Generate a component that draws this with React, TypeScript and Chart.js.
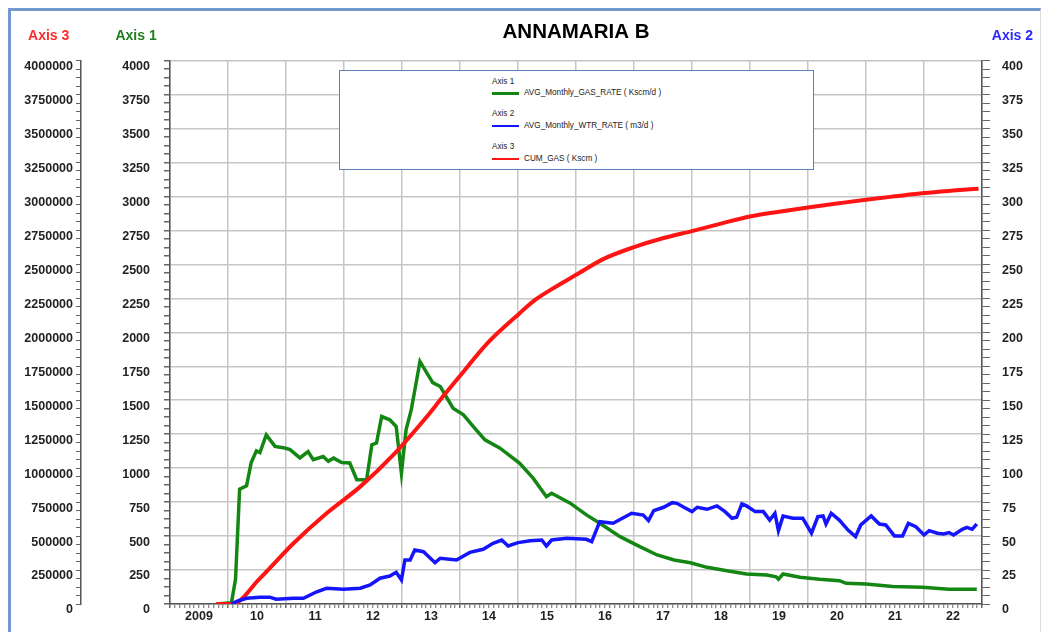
import React, { useEffect, useRef } from 'react';
import { Chart, registerables } from 'chart.js';

Chart.register(...registerables);

// ---- DATA ----
const gasYears = [
  2009.8, 2010.06, 2010.13, 2010.2, 2010.32, 2010.4, 2010.49, 2010.55, 2010.66, 2010.81,
  2010.98, 2011.07, 2011.24, 2011.38, 2011.47, 2011.64, 2011.73, 2011.82, 2011.96, 2012.1,
  2012.22, 2012.39, 2012.48, 2012.56, 2012.65, 2012.79, 2012.9, 2012.99, 2013.07, 2013.16,
  2013.31, 2013.53, 2013.66, 2013.88, 2014.06, 2014.23, 2014.43, 2014.69, 2015.03, 2015.26,
  2015.49, 2015.58, 2015.9, 2016.18, 2016.41, 2016.76, 2017.1, 2017.4, 2017.69, 2017.97,
  2018.26, 2018.6, 2018.94, 2019.29, 2019.45, 2019.49, 2019.57, 2019.86, 2020.2, 2020.54,
  2020.66, 2021.0, 2021.46, 2021.97, 2022.43, 2022.91,
];
const gasRate = [
  0, 10, 184, 845, 870, 1042, 1127, 1115, 1245, 1160,
  1148, 1136, 1075, 1122, 1062, 1086, 1050, 1074, 1042, 1038,
  915, 915, 1172, 1185, 1380, 1356, 1306, 963, 1282, 1430,
  1785, 1630, 1601, 1441, 1392, 1306, 1208, 1147, 1036, 926,
  790, 815, 742, 656, 594, 496, 422, 361, 324, 304,
  270, 245, 221, 214, 200, 182, 221, 197, 182, 172,
  152, 147, 128, 123, 108, 108,
];

const wtrYears = [
  2010.06, 2010.15, 2010.32, 2010.55, 2010.72, 2010.83, 2011.13, 2011.3, 2011.53, 2011.7,
  2011.99, 2012.28, 2012.45, 2012.62, 2012.79, 2012.9, 2012.99, 2013.05, 2013.14, 2013.22,
  2013.37, 2013.57, 2013.66, 2013.94, 2014.17, 2014.4, 2014.57, 2014.72, 2014.83, 2015.0,
  2015.21, 2015.41, 2015.49, 2015.58, 2015.84, 2016.18, 2016.27, 2016.41, 2016.64, 2016.96,
  2017.16, 2017.25, 2017.34, 2017.51, 2017.66, 2017.74, 2017.86, 2018.0, 2018.09, 2018.26,
  2018.43, 2018.57, 2018.69, 2018.77, 2018.86, 2018.94, 2019.09, 2019.23, 2019.34, 2019.43,
  2019.49, 2019.57, 2019.74, 2019.91, 2020.06, 2020.17, 2020.26, 2020.31, 2020.4, 2020.54,
  2020.69, 2020.82, 2020.91, 2021.09, 2021.23, 2021.34, 2021.49, 2021.63, 2021.73, 2021.86,
  2022.0, 2022.09, 2022.23, 2022.34, 2022.43, 2022.51, 2022.66, 2022.74, 2022.83, 2022.91,
];
const wtrRate = [
  0, 2, 4.2, 4.9, 5, 3.5, 4.2, 4.2, 9, 11.6,
  10.8, 11.6, 14, 19, 20.6, 23.3, 17.7, 32.4, 32.4, 39.8,
  38.5, 30.4, 33.7, 32.4, 38, 40.3, 44.7, 47.1, 42.7, 45.2,
  46.6, 47.1, 42.7, 47.1, 48.4, 47.6, 45.9, 60.6, 59.4, 66.8,
  65.5, 61.4, 68.7, 71.2, 74.6, 74.1, 71.2, 68, 71.2, 69.7,
  72.2, 68, 63.1, 63.8, 73.7, 72.2, 68, 68, 61.8, 66.8,
  54, 64.8, 63.1, 63.1, 52.1, 64.3, 64.8, 58.9, 66.8, 61.8,
  54.4, 49.6, 58.2, 64.8, 58.9, 58.2, 50.1, 50.1, 59.4, 56.9,
  50.8, 54, 52.1, 51.6, 52.6, 50.8, 55, 56.4, 55, 58.9,
];

const cumYears = [
  2009.8, 2010.07, 2010.55, 2011.13, 2011.7, 2012.28, 2012.85, 2013.43, 2013.66, 2014.06,
  2014.45, 2015.03, 2015.3, 2015.61, 2016.0, 2016.47, 2017.0, 2017.51, 2018.0, 2018.5,
  2019.0, 2019.5, 2020.0, 2020.5, 2021.0, 2021.5, 2022.0, 2022.5, 2022.94,
];
const cumGas = [
  0, 0, 189000, 447000, 668000, 864000, 1097000, 1380000, 1503000, 1710000,
  1910000, 2141000, 2240000, 2325000, 2423000, 2539000, 2627000, 2694000, 2745000, 2800000,
  2853000, 2888000, 2919000, 2948000, 2976000, 3001000, 3025000, 3043000, 3057000,
];

const yearLabels = ['2009', '10', '11', '12', '13', '14', '15', '16', '17', '18', '19', '20', '21', '22'];
const axis1Labels = ['0', '250', '500', '750', '1000', '1250', '1500', '1750', '2000', '2250', '2500', '2750', '3000', '3250', '3500', '3750', '4000'];
const axis2Labels = ['0', '25', '50', '75', '100', '125', '150', '175', '200', '225', '250', '275', '300', '325', '350', '375', '400'];
const axis3Labels = ['0', '250000', '500000', '750000', '1000000', '1250000', '1500000', '1750000', '2000000', '2250000', '2500000', '2750000', '3000000', '3250000', '3500000', '3750000', '4000000'];

// ---- STYLE ----
const GREEN = '#138613';
const BLUE = '#1414ff';
const RED = '#ff1414';
const GRID = '#c6c6c6';
const AXIS = '#555555';
const FONT = '"Liberation Sans", Arial, sans-serif';
const tickFont = { family: FONT, size: 12.5, weight: 'bold' as const };
const TRANSPARENT = 'rgba(0,0,0,0)';

const legendItems = [
  { axis: 'Axis 1', name: 'AVG_Monthly_GAS_RATE ( Kscm/d )', color: GREEN },
  { axis: 'Axis 2', name: 'AVG_Monthly_WTR_RATE ( m3/d )', color: BLUE },
  { axis: 'Axis 3', name: 'CUM_GAS ( Kscm )', color: RED },
];

const headerPlugin = {
  id: 'axisHeaders',
  afterDraw(chart: any) {
    const ctx = chart.ctx as CanvasRenderingContext2D;
    const items = [
      { id: 'y3', text: 'Axis 3', color: '#ff2a2a' },
      { id: 'y', text: 'Axis 1', color: '#1f7f1f' },
      { id: 'y2', text: 'Axis 2', color: '#2a2aff' },
    ];
    const yPos = chart.chartArea.top - 24;
    ctx.save();
    for (const it of items) {
      const s = chart.scales[it.id];
      const o = s.options;
      const tl = o.grid.tickLength;
      const pad = o.ticks.padding;
      ctx.font = `bold ${tickFont.size}px ${FONT}`;
      const lastLabel = String(s.ticks[s.ticks.length - 1].label);
      const w = ctx.measureText(lastLabel).width;
      let cx: number;
      if (o.position === 'left') {
        cx = s.right - tl - pad - w / 2;
      } else {
        cx = s.left + tl + pad + w / 2;
      }
      ctx.font = `bold 14px ${FONT}`;
      ctx.fillStyle = it.color;
      ctx.textAlign = 'center';
      ctx.textBaseline = 'middle';
      ctx.fillText(it.text, cx, yPos);
    }
    ctx.restore();
  },
};

function makeTicks(n: number, step: number, start = 0) {
  const arr: { value: number }[] = [];
  for (let i = 0; i <= n; i++) arr.push({ value: start + i * step });
  return arr;
}

export default function App() {
  const canvasRef = useRef<HTMLCanvasElement | null>(null);

  useEffect(() => {
    if (!canvasRef.current) return;
    const chart = new Chart(canvasRef.current, {
      type: 'line',
      data: {
        datasets: [
          {
            label: 'AVG_Monthly_WTR_RATE ( m3/d )',
            data: wtrYears.map((x, i) => ({ x, y: wtrRate[i] })),
            borderColor: BLUE,
            backgroundColor: BLUE,
            borderWidth: 3.5,
            yAxisID: 'y2',
          },
          {
            label: 'CUM_GAS ( Kscm )',
            data: cumYears.map((x, i) => ({ x, y: cumGas[i] })),
            borderColor: RED,
            backgroundColor: RED,
            borderWidth: 4,
            cubicInterpolationMode: 'monotone',
            yAxisID: 'y3',
          },
          {
            label: 'AVG_Monthly_GAS_RATE ( Kscm/d )',
            data: gasYears.map((x, i) => ({ x, y: gasRate[i] })),
            borderColor: GREEN,
            backgroundColor: GREEN,
            borderWidth: 3.5,
            yAxisID: 'y',
          },
        ],
      },
      options: {
        responsive: false,
        animation: false,
        devicePixelRatio: 1,
        layout: { padding: { left: 10, right: 8, top: 10, bottom: 0 } },
        elements: { point: { radius: 0, hoverRadius: 0 }, line: { tension: 0 } },
        plugins: {
          legend: { display: false },
          tooltip: { enabled: false },
          title: {
            display: true,
            text: 'ANNAMARIA B',
            fullSize: false,
            color: '#000',
            font: { family: FONT, size: 20.5, weight: 'bold' },
            padding: { top: 10, bottom: 16 },
          },
        },
        scales: {
          x: {
            type: 'linear',
            min: 2009,
            max: 2023,
            afterBuildTicks: (s: any) => {
              s.ticks = makeTicks(14 * 12, 1 / 12, 2009);
            },
            afterFit: (s: any) => {
              s.height = 28;
            },
            grid: {
              color: (c: any) => (c.index % 12 === 0 ? GRID : TRANSPARENT),
              lineWidth: 1.5,
              tickColor: '#666',
              tickLength: 4,
              tickWidth: (c: any) => (c.index % 12 === 0 ? 1.5 : 1),
            },
            border: { display: true, color: AXIS, width: 1.5 },
            ticks: {
              autoSkip: false,
              maxRotation: 0,
              minRotation: 0,
              padding: 1,
              color: '#222',
              font: tickFont,
              callback: (_v: any, i: number) => (i % 12 === 6 ? yearLabels[Math.floor(i / 12)] : ''),
            },
          },
          y: {
            type: 'linear',
            position: 'left',
            weight: 0,
            min: 0,
            max: 4000,
            afterBuildTicks: (s: any) => {
              s.ticks = makeTicks(64, 62.5);
            },
            afterFit: (s: any) => {
              s.width = 89;
            },
            grid: {
              color: (c: any) => (c.index % 4 === 0 ? GRID : TRANSPARENT),
              lineWidth: 1.5,
              tickColor: '#666',
              tickLength: 6,
            },
            border: { display: true, color: AXIS, width: 1.5 },
            ticks: {
              autoSkip: false,
              padding: 14,
              labelOffset: 6,
              color: '#222',
              font: tickFont,
              callback: (_v: any, i: number) => (i % 4 === 0 ? axis1Labels[i / 4] : ''),
            },
          },
          y3: {
            type: 'linear',
            position: 'left',
            weight: 10,
            min: 0,
            max: 4000000,
            afterBuildTicks: (s: any) => {
              s.ticks = makeTicks(64, 62500);
            },
            afterFit: (s: any) => {
              s.width = 71;
            },
            grid: {
              drawOnChartArea: false,
              color: '#666',
              tickColor: '#666',
              tickLength: 5,
            },
            border: { display: true, color: AXIS, width: 1.5 },
            ticks: {
              autoSkip: false,
              padding: 3,
              labelOffset: 6,
              color: '#222',
              font: tickFont,
              callback: (_v: any, i: number) => (i % 4 === 0 ? axis3Labels[i / 4] : ''),
            },
          },
          y2: {
            type: 'linear',
            position: 'right',
            min: 0,
            max: 400,
            afterBuildTicks: (s: any) => {
              s.ticks = makeTicks(64, 6.25);
            },
            afterFit: (s: any) => {
              s.width = 53;
            },
            grid: {
              drawOnChartArea: false,
              color: '#666',
              tickColor: '#666',
              tickLength: 8,
            },
            border: { display: true, color: AXIS, width: 1.5 },
            ticks: {
              autoSkip: false,
              padding: 12,
              labelOffset: 6,
              color: '#222',
              font: tickFont,
              callback: (_v: any, i: number) => (i % 4 === 0 ? axis2Labels[i / 4] : ''),
            },
          },
        },
      } as any,
      plugins: [headerPlugin],
    });
    return () => chart.destroy();
  }, []);

  return (
    <div style={{ position: 'absolute', left: 0, top: 0, width: 1043, height: 632, background: '#fff', overflow: 'hidden' }}>
      <canvas ref={canvasRef} width={1043} height={632} style={{ display: 'block' }} />
      <div
        style={{
          position: 'absolute',
          left: 8,
          top: 8,
          width: 1029,
          height: 640,
          borderLeft: '3px solid #7399cf',
          borderTop: '3px solid #7399cf',
          borderRight: '1px solid #dcdcdc',
          pointerEvents: 'none',
        }}
      />
      <div
        style={{
          position: 'absolute',
          left: 339,
          top: 70,
          width: 475,
          height: 100,
          boxSizing: 'border-box',
          border: '1.5px solid #5d80b6',
          background: '#fff',
          fontFamily: FONT,
          color: '#222',
        }}
      >
        {legendItems.map((it, k) => (
          <React.Fragment key={it.axis}>
            <div
              style={{
                position: 'absolute',
                left: 152,
                top: 10.7 + 32.7 * k - 5,
                height: 10,
                lineHeight: '10px',
                fontSize: 8.2,
                whiteSpace: 'nowrap',
              }}
            >
              {it.axis}
            </div>
            <div
              style={{
                position: 'absolute',
                left: 152,
                top: 22.4 + 32.7 * k - 1.25,
                width: 27,
                height: 2.5,
                background: it.color,
              }}
            />
            <div
              style={{
                position: 'absolute',
                left: 184,
                top: 22.4 + 32.7 * k - 5,
                height: 10,
                lineHeight: '10px',
                fontSize: 8.2,
                whiteSpace: 'nowrap',
              }}
            >
              {it.name}
            </div>
          </React.Fragment>
        ))}
      </div>
    </div>
  );
}
